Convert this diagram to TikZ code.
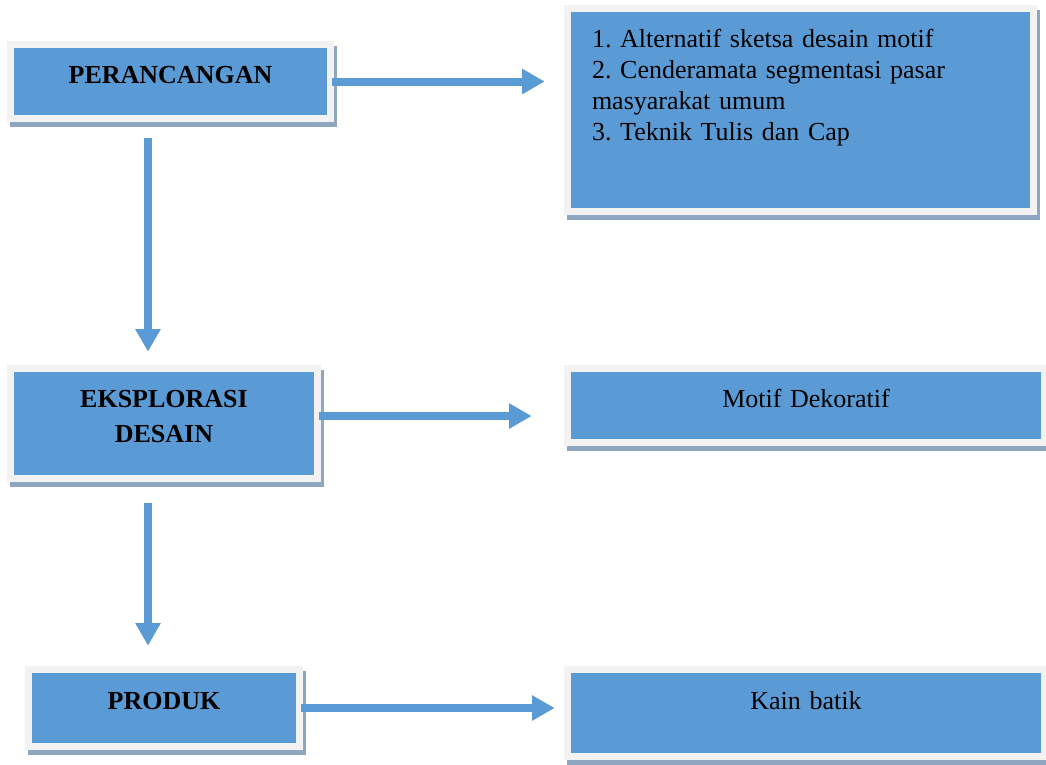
\documentclass[tikz,border=0pt]{standalone}
\usepackage{fontspec}
\setmainfont{Liberation Serif}
\usepackage{tikz}
\usetikzlibrary{arrows.meta, shadows}
\usepackage{xcolor}
\definecolor{boxblue}{HTML}{5B9BD5}
\definecolor{framegray}{HTML}{F2F2F2}
\definecolor{shadowgray}{HTML}{8EA6C0}
\frenchspacing

\begin{document}
\begin{tikzpicture}[
    x=0.75pt, y=-0.75pt,
    box/.style={fill=framegray, inner xsep=0pt, inner ysep=0pt, align=center,
        font=\fontsize{19.5}{23.25}\selectfont,
        drop shadow={shadow xshift=2.6pt, shadow yshift=-4.1pt, fill=shadowgray, opacity=1},
        path picture={\fill[boxblue] ([shift={(5.5pt,-5.5pt)}]path picture bounding box.north west)
            rectangle ([shift={(-5.5pt,5.5pt)}]path picture bounding box.south east);}},
    flow/.style={-{Triangle[width=18pt, length=17pt]}, line width=6pt, draw=boxblue}
]
\useasboundingbox (0,0) rectangle (1046,764);

% Nodes
\node[box, text width=245.25pt, text height=31.5pt, text depth=29.25pt] (per) at (170.5,81.5)
    {\bfseries PERANCANGAN};
\node[box, align=left, inner xsep=21pt, text width=312.75pt, text height=31.5pt, text depth=126pt] (list) at (800.5,110)
    {1. Alternatif sketsa desain motif\\ 2. Cenderamata segmentasi pasar\\ masyarakat umum\\ 3. Teknik Tulis dan Cap};
\node[box, text width=235.5pt, text height=31.5pt, text depth=56.25pt] (eks) at (164,423.5)
    {\bfseries EKSPLORASI\\[3pt] \bfseries DESAIN};
\node[box, text width=363pt, text height=31.5pt, text depth=29.25pt] (motif) at (806,405.5)
    {Motif Dekoratif};
\node[box, text width=208.5pt, text height=32.25pt, text depth=30.75pt] (prod) at (164,708)
    {\bfseries PRODUK};
\node[box, text width=363pt, text height=32.25pt, text depth=38.25pt] (kain) at (806,713)
    {Kain batik};

% Arrows
\draw[flow, shorten <=-1.5pt, shorten >=14.25pt] (per.east) -- (per.east -| list.west);
\draw[flow, shorten <=12pt, shorten >=9.75pt] ([xshift=-16.9pt]per.south) -- ([xshift=-16.9pt]per.south |- eks.north);
\draw[flow, shorten <=-1.5pt, shorten >=24pt] ([yshift=5.6pt]eks.east) -- ([yshift=5.6pt]eks.east -| motif.west);
\draw[flow, shorten <=15.75pt, shorten >=15pt] ([xshift=-12pt]eks.south) -- ([xshift=-12pt]eks.south |- prod.north);
\draw[flow, shorten <=-1.5pt, shorten >=6.75pt] (prod.east) -- (prod.east -| kain.west);

\end{tikzpicture}
\end{document}
